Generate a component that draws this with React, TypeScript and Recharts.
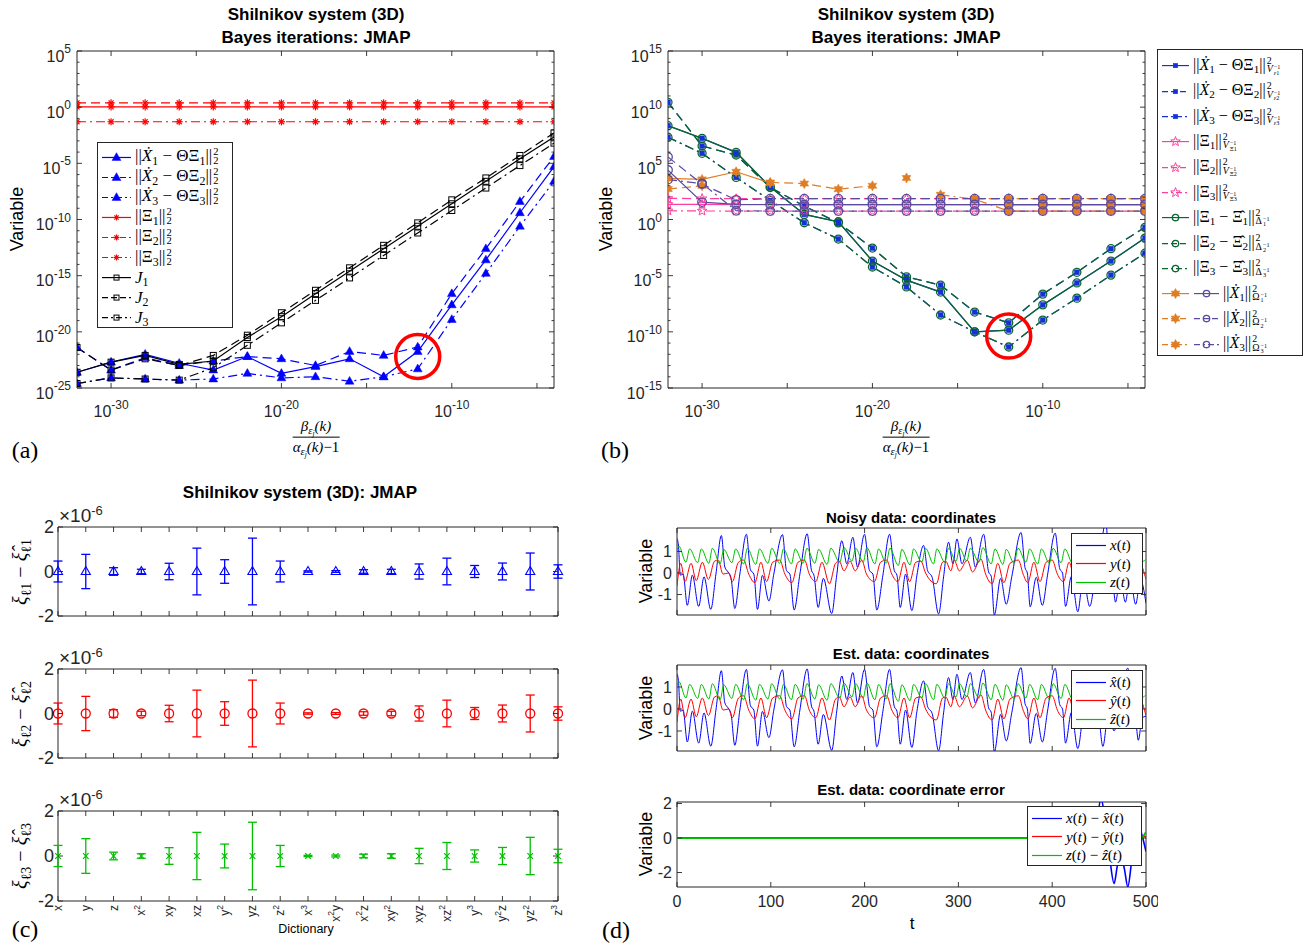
import React from 'react';
import {
  LineChart, Line, XAxis, YAxis, ReferenceArea, ReferenceDot,
  ScatterChart, Scatter, ErrorBar,
} from 'recharts';

const AX = '#262626';
const SANS = '"Liberation Sans", Arial, Helvetica, sans-serif';
const MATH = '"Liberation Serif", "DejaVu Serif", "Times New Roman", serif';
const DASH = '9 5';
const DASHDOT = '9 4 2 4';

const BLUE = '#0000ff';
const RED = '#ff0000';
const BLACK = '#000000';
const B_BLUE = '#1630d8';
const PINK = '#ff3fa0';
const DGREEN = '#0a6630';
const ORANGE = '#e07d22';
const PURPLE = '#5b4a9e';
const LGREEN = '#00c000';

// ---------------- β/(α−1) grid (log10 exponents) shared by (a) and (b)
const BETA_EXP = [-32, -30, -28, -26, -24, -22, -20, -18, -16, -14, -12, -10, -8, -6, -4];

// (a) log10 of the plotted quantities at each grid point
const RES1_A = [-23.6, -22.7, -22.0, -22.8, -23.4, -22.2, -23.7, -23.1, -22.4, -24.0, -21.75, -17.6, -13.6, -9.4, -5.3];
const RES2_A = [-21.4, -23.4, -22.3, -23.0, -22.6, -22.2, -22.4, -23.0, -21.75, -22.1, -21.35, -16.6, -12.6, -8.4, -4.4];
const RES3_A = [-24.6, -24.1, -24.2, -24.3, -24.2, -23.7, -24.1, -24.0, -24.4, -24.0, -23.3, -18.9, -14.8, -10.6, -6.6];
const NRM1_A = [0.03, 0.03, 0.03, 0.03, 0.03, 0.03, 0.03, 0.03, 0.03, 0.03, 0.03, 0.03, 0.03, 0.03, 0.03];
const NRM2_A = [0.38, 0.38, 0.38, 0.38, 0.38, 0.38, 0.38, 0.38, 0.38, 0.38, 0.38, 0.38, 0.38, 0.38, 0.38];
const NRM3_A = [-1.3, -1.3, -1.3, -1.3, -1.3, -1.3, -1.3, -1.3, -1.3, -1.3, -1.3, -1.3, -1.3, -1.3, -1.3];
const J1_A = [-23.6, -22.7, -22.1, -22.9, -22.6, -20.5, -18.65, -16.6, -14.6, -12.6, -10.6, -8.6, -6.6, -4.6, -2.65];
const J2_A = [-21.4, -23.4, -22.4, -23.0, -22.1, -20.3, -18.3, -16.3, -14.3, -12.3, -10.3, -8.25, -6.3, -4.3, -2.3];
const J3_A = [-24.6, -24.1, -24.2, -24.3, -23.2, -21.2, -19.2, -17.2, -15.2, -13.2, -11.2, -9.2, -7.2, -5.2, -3.2];
const MARK_A = { exp: -12, val: -22.2 };

// (b) log10 of the weighted quantities
const DIF1_B = [8.35, 7.23, 5.98, 2.9, 0.45, -0.2, -3.7, -5.4, -6.46, -10.0, -9.85, -7.6, -5.65, -3.7, -1.65];
const DIF2_B = [10.43, 6.54, 5.74, 2.85, 1.2, -0.3, -2.54, -5.1, -5.84, -8.24, -9.2, -6.64, -4.7, -2.6, -0.7];
const DIF3_B = [7.32, 5.89, 3.75, 1.7, -0.29, -1.74, -4.23, -6.0, -8.5, -10.0, -11.35, -8.95, -7.0, -4.95, -3.0];
const RESV1_B = [8.35, 7.23, 5.98, 2.9, 0.45, -0.2, -3.7, -5.4, -6.46, -10.0, -9.85, -7.6, -5.65, -3.7, -1.65];
const RESV2_B = [10.43, 6.54, 5.74, 2.85, 1.2, -0.3, -2.54, -5.1, -5.84, -8.24, -9.2, -6.64, -4.7, -2.6, -0.7];
const RESV3_B = [7.32, 5.89, 3.75, 1.7, -0.29, -1.74, -4.23, -6.0, -8.5, -10.0, -11.35, -8.95, -7.0, -4.95, -3.0];
const PN1_B = [1.35, 1.35, 1.33, 1.33, 1.33, 1.33, 1.33, 1.33, 1.33, 1.33, 1.33, 1.33, 1.33, 1.33, 1.33];
const PN2_B = [1.88, 1.86, 1.85, 1.85, 1.85, 1.85, 1.85, 1.85, 1.85, 1.85, 1.85, 1.85, 1.85, 1.85, 1.85];
const PN3_B = [0.78, 0.76, 0.75, 0.75, 0.75, 0.75, 0.75, 0.75, 0.75, 0.75, 0.75, 0.75, 0.75, 0.75, 0.75];
const XN1_B = [4.4, 1.55, 1.35, 1.33, 1.33, 1.33, 1.33, 1.33, 1.33, 1.33, 1.33, 1.33, 1.33, 1.33, 1.33];
const XN2_B = [5.56, 3.15, 1.75, 1.85, 1.85, 1.85, 1.85, 1.85, 1.85, 1.85, 1.85, 1.85, 1.85, 1.85, 1.85];
const XN3_B = [3.55, 3.2, 0.78, 0.75, 0.75, 0.75, 0.75, 0.75, 0.75, 0.75, 0.75, 0.75, 0.75, 0.75, 0.75];
const OR1_B = [3.66, 3.57, 4.25, 3.25, null, null, null, 3.7, null, null, 1.33, 1.33, 1.33, 1.33, 1.33];
const OR2_B = [2.71, 3.0, null, 3.3, 3.2, 2.7, 3.0, null, null, 1.85, 1.85, 1.85, 1.85, 1.85, 1.85];
const OR3_B = [null, null, null, null, null, null, null, null, 2.2, 1.8, 0.75, 0.75, 0.75, 0.75, 0.75];
const MARK_B = { exp: -12, val: -10.38 };

// (c) dictionary terms and coefficient error bars (units of 1e-6)
const DICT = ['x', 'y', 'z', 'x^2', 'xy', 'xz', 'y^2', 'yz', 'z^2', 'x^3', 'x^2y', 'x^2z', 'xy^2', 'xyz', 'xz^2', 'y^3', 'y^2z', 'yz^2', 'z^3'];
const ERR_C = [0.47, 0.77, 0.17, 0.1, 0.37, 1.05, 0.53, 1.5, 0.47, 0.03, 0.04, 0.08, 0.1, 0.34, 0.6, 0.27, 0.38, 0.83, 0.3];
const DEV1_C = [0, 0, 0, 0, 0, 0, 0, 0, 0, 0, 0, 0, 0, 0, 0, 0, 0, 0, 0];
const DEV2_C = [0, 0, 0, 0, 0, 0, 0, 0, 0, 0, 0, 0, 0, 0, 0, 0, 0, 0, 0];
const DEV3_C = [0, 0, 0, 0, 0, 0, 0, 0, 0, 0, 0, 0, 0, 0, 0, 0, 0, 0, 0];

// (d) trajectories as [t, value] turning points
const X_BODY = [
  [0, 1.6], [1.5, 1.3], [3.5, -0.1], [6.5, -0.05], [11, -1.5], [16.4, -0.1], [23.1, -1.55], [28.8, -0.18],
  [36, -1.69], [41.5, -0.05], [47.3, 1.74], [51, 0.28], [54.4, 0.05], [57.5, -0.2], [61.6, -1.65], [67, -0.05],
  [74, 1.8], [78.3, 0.15], [81.9, -0.05], [85.8, -1.69], [91.1, -0.11], [98, -1.3], [103.2, -0.05], [112.5, 1.78],
  [116.7, 0.12], [120.3, -0.05], [124.9, -1.72], [131, -0.05], [138.8, 1.82], [143.4, 0.12], [146, -0.1], [150.5, -1.6],
  [156, -0.25], [165, -1.88], [170, -0.2], [175.7, 1.5], [181, 0.43], [187.5, 1.66], [192.4, 0.28], [199.9, 1.8],
  [205.2, 0.12], [208.8, -0.05], [213, -1.72], [219.5, -0.1], [226.6, 1.8], [231.6, 0.12], [234.5, -0.1], [238, -1.6],
  [243.7, -0.05], [250.4, -1.75], [255.8, -0.1], [262.9, 1.28], [267.1, 0.12], [272, -0.2], [278.9, -1.9], [284.2, -0.18],
  [289.5, 1.43], [294.2, 0.43], [298.4, 1.58], [303.8, 0.43], [312.7, 1.66], [318, 0.28], [326.9, 1.8], [332.2, 0.05],
  [335, -0.15], [338.3, -1.95], [345, -0.25], [351, -1.45], [357, -0.15], [366.8, 1.88], [371, 0.25], [373.5, 0.0],
  [376.5, -1.57], [383, -0.2], [389.5, -1.5], [395, -0.1], [403.2, 1.85], [408, 0.2], [411, 0.0], [414.2, -1.55],
  [420.5, -0.15], [427.3, -1.8], [433, -0.2],
];
const X_NOISY_TAIL = [
  [440, -1.55], [446, -0.15], [452, 1.2], [457, 2.4], [461, 0.3], [464, -0.1], [467.5, -1.35], [472.5, -0.2],
  [478, -1.35], [483, -0.2], [489, -1.45], [494, -0.3], [500, -1.4],
];
const X_EST_TAIL = [
  [440, 0.9], [445, 0.2], [449, -0.1], [454, -1.7], [460, -0.15], [466, -1.0], [471, -0.1], [480.6, 1.86],
  [485, 0.25], [488, 0.0], [491.8, -1.42], [496, -0.4], [500, -0.33],
];
const Y_SERIES = [
  [0, -0.6], [4, 0.45], [8.5, -0.4], [15, 0.45], [20.5, -0.35], [27, 0.5], [33.5, -0.3], [40, 0.55], [44, 0.6],
  [49, -0.05], [55, 0.0], [59, -0.4], [65.5, 0.5], [71, 0.6], [76.5, -0.05], [83, -0.45], [89.5, 0.5], [95.5, -0.4],
  [102, 0.5], [109.5, 0.6], [115, -0.05], [122.5, -0.45], [129, 0.5], [136, 0.6], [141, -0.05], [148, -0.4],
  [154.5, 0.5], [162.5, -0.5], [169, 0.45], [173, 0.55], [178, 0.1], [184.5, 0.55], [190, 0.1], [197, 0.6],
  [202, -0.05], [210.5, -0.4], [217, 0.5], [223.5, 0.6], [229, -0.05], [235.5, -0.4], [242, 0.5], [248, -0.4],
  [254.5, 0.5], [260, 0.55], [265, 0.0], [276.5, -0.5], [283, 0.5], [286.5, 0.55], [292, 0.1], [295.5, 0.6],
  [301, 0.1], [309.5, 0.6], [315, 0.05], [324, 0.65], [329, -0.05], [336, -0.5], [342, 0.45], [348.5, -0.45],
  [355, 0.45], [364, 0.6], [369, -0.05], [374, -0.45], [380.5, 0.5], [387, -0.4], [393.5, 0.5], [400, 0.6],
  [405.5, -0.05], [412, -0.4], [418, 0.5], [425, -0.45], [431.5, 0.5], [438.5, -0.4], [445, 0.45], [454, 0.6],
  [459, -0.1], [465, -0.45], [471.5, 0.45], [475.5, -0.45], [482, 0.45], [486.5, -0.5], [493, 0.45], [500, -0.3],
];
const Z_SERIES = [
  [0, 1.05], [2, 1.25], [9.5, 0.5], [13.5, 1.12], [22, 0.48], [26, 1.12], [34, 0.45], [37.7, 1.15], [46, 0.42],
  [49.8, 1.1], [58.5, 0.48], [62.6, 1.12], [71, 0.42], [75, 1.15], [84, 0.4], [88, 1.12], [97, 0.45], [101, 1.15],
  [109.5, 0.45], [113.5, 1.12], [122, 0.42], [126, 1.12], [134.5, 0.45], [138.5, 1.15], [147, 0.45], [151, 1.1],
  [160, 0.4], [164, 1.15], [173.5, 0.5], [178, 1.18], [186.5, 0.55], [190.5, 1.15], [198.5, 0.5], [202.4, 1.18],
  [211, 0.42], [214.9, 1.12], [223, 0.45], [227, 1.15], [236, 0.35], [239.7, 1.1], [248.5, 0.38], [252.2, 1.12],
  [261, 0.5], [265, 1.15], [273.5, 0.42], [277, 1.12], [285.5, 0.5], [289.5, 1.15], [297.5, 0.55], [301.3, 1.15],
  [309, 0.55], [312.7, 1.15], [322, 0.5], [326, 1.18], [335, 0.42], [339, 1.12], [347.5, 0.4], [351, 1.1],
  [359.5, 0.45], [363.5, 1.15], [372, 0.5], [376, 1.12], [384.5, 0.42], [388.5, 1.12], [397, 0.45], [401, 1.15],
  [409.5, 0.48], [413.5, 1.12], [422, 0.42], [426, 1.12], [434.5, 0.42], [438.5, 1.1], [447, 0.5], [451, 1.15],
  [459.5, 0.5], [463.5, 1.1], [472, 0.45], [476, 1.12], [484.5, 0.5], [488.5, 1.1], [497, 0.55], [500, 0.65],
];
const ERRX_D = [
  [0, 0], [442, 0], [447, 0.6], [452, 2.3], [456, 1.2], [461, -1.0], [466, -2.63], [469.5, -1.6], [473.4, -1.07],
  [477, -1.8], [480.6, -2.83], [485, -1.2], [489, 0.2], [492.7, 0.68], [496, 0.1], [500, -0.78],
];
const ERRY_D = [[0, 0], [470, 0], [478, 0.1], [486, -0.15], [490, -0.45], [494, -0.2], [497, 0.1], [500, 0.05]];
const ERRZ_D = [[0, 0], [480, 0], [486, -0.1], [491, -0.25], [495, -0.05], [500, 0.35]];

// ---------------- helpers
const p10 = (v: number | null) => (v == null ? null : Math.pow(10, v));
const decades = (lo: number, hi: number) => {
  const out: number[] = [];
  for (let e = lo; e <= hi; e++) out.push(Math.pow(10, e));
  return out;
};
const expOf = (v: number) => Math.round(Math.log10(v));
const toPts = (a: number[][]) => a.map(([t, v]) => ({ t, v }));

type Box = { left: number; top: number; width: number; height: number };
const YW = 60;
const XH = 30;
function frame(b: Box, padL = 72, padT = 12, padR = 12, padB = 44) {
  return {
    style: { position: 'absolute', left: b.left - padL, top: b.top - padT } as React.CSSProperties,
    width: b.width + padL + padR,
    height: b.height + padT + padB,
    margin: { left: padL - YW, top: padT, right: padR, bottom: padB - XH },
  };
}

type TickCfg = {
  side: 'left' | 'bottom';
  gap: number;
  span: number;
  len?: number;
  minorLen?: number;
  isMajor?: (v: number) => boolean;
  label?: (v: number, x: number, y: number) => React.ReactNode;
};
function tickRenderer(c: TickCfg) {
  return (p: any) => {
    const v = Number(p.payload && p.payload.value);
    const major = c.isMajor ? c.isMajor(v) : true;
    const L = major ? (c.len ?? 5) : (c.minorLen ?? 3);
    if (c.side === 'left') {
      const ax = p.x + c.gap;
      return (
        <g>
          <line x1={ax} x2={ax + L} y1={p.y} y2={p.y} stroke={AX} strokeWidth={0.9} />
          <line x1={ax + c.span - L} x2={ax + c.span} y1={p.y} y2={p.y} stroke={AX} strokeWidth={0.9} />
          {major && c.label ? c.label(v, p.x, p.y) : null}
        </g>
      );
    }
    const ay = p.y - c.gap;
    return (
      <g>
        <line x1={p.x} x2={p.x} y1={ay} y2={ay - L} stroke={AX} strokeWidth={0.9} />
        <line x1={p.x} x2={p.x} y1={ay - c.span} y2={ay - c.span + L} stroke={AX} strokeWidth={0.9} />
        {major && c.label ? c.label(v, p.x, p.y) : null}
      </g>
    );
  };
}

const powLeft = (v: number, x: number, y: number) => (
  <text x={x} y={y + 10.5} textAnchor="end" fontFamily={SANS} fontSize={16} fill={AX}>
    10<tspan dy={-8.5} fontSize={12}>{expOf(v)}</tspan>
  </text>
);
const powBottom = (v: number, x: number, y: number) =>
  expOf(v) % 10 === 0 ? (
    <text x={x} y={y + 23} textAnchor="middle" fontFamily={SANS} fontSize={16} fill={AX}>
      10<tspan dy={-8.5} fontSize={12}>{expOf(v)}</tspan>
    </text>
  ) : null;
const numLeft = (size: number) => (v: number, x: number, y: number) => (
  <text x={x} y={y} dy="0.36em" textAnchor="end" fontFamily={SANS} fontSize={size} fill={AX}>{String(v)}</text>
);
const numBottom = (size: number) => (v: number, x: number, y: number) => (
  <text x={x} y={y + 16} textAnchor="middle" fontFamily={SANS} fontSize={size} fill={AX}>{String(v)}</text>
);
const dictLabel = (v: number, x: number, y: number) => {
  const s = DICT[Math.round(v)] || '';
  const parts: React.ReactNode[] = [];
  let raised = false;
  for (let i = 0; i < s.length; i++) {
    if (s[i] === '^') {
      parts.push(<tspan key={i} dy={-4.5} fontSize={8.5}>{s[i + 1]}</tspan>);
      raised = true;
      i++;
    } else {
      parts.push(<tspan key={i} dy={raised ? 4.5 : 0} fontSize={12}>{s[i]}</tspan>);
      raised = false;
    }
  }
  return (
    <text transform={`rotate(-90 ${x} ${y})`} x={x} y={y} textAnchor="end" dominantBaseline="central" fontFamily={SANS} fill={AX}>
      {parts}
    </text>
  );
};

// ---------------- marker shapes
type Draw = (x: number, y: number) => React.ReactNode;
const starPath = (cx: number, cy: number, n: number, ro: number, ri: number) => {
  let d = '';
  for (let k = 0; k < 2 * n; k++) {
    const r = k % 2 ? ri : ro;
    const a = -Math.PI / 2 + (k * Math.PI) / n;
    d += (k ? 'L' : 'M') + (cx + r * Math.cos(a)).toFixed(2) + ',' + (cy + r * Math.sin(a)).toFixed(2);
  }
  return d + 'Z';
};
const triFilled = (c: string): Draw => (x, y) => (
  <path d={`M${x},${y - 4.8}L${x + 4.4},${y + 2.9}L${x - 4.4},${y + 2.9}Z`} fill={c} stroke={c} strokeWidth={0.5} />
);
const triOpen = (c: string): Draw => (x, y) => (
  <path d={`M${x},${y - 5}L${x + 4.6},${y + 3}L${x - 4.6},${y + 3}Z`} fill="none" stroke={c} strokeWidth={1.1} />
);
const sqOpen = (c: string, s = 3): Draw => (x, y) => (
  <rect x={x - s} y={y - s} width={2 * s} height={2 * s} fill="none" stroke={c} strokeWidth={1} />
);
const sqFilled = (c: string, s = 2.4): Draw => (x, y) => (
  <rect x={x - s} y={y - s} width={2 * s} height={2 * s} fill={c} stroke={c} strokeWidth={0.5} />
);
const circOpen = (c: string, r = 4): Draw => (x, y) => (
  <circle cx={x} cy={y} r={r} fill="none" stroke={c} strokeWidth={1.3} />
);
const asterisk = (c: string, r = 3.6): Draw => (x, y) => (
  <g stroke={c} strokeWidth={1.2}>
    <line x1={x - r} y1={y} x2={x + r} y2={y} />
    <line x1={x} y1={y - r} x2={x} y2={y + r} />
    <line x1={x - r * 0.7} y1={y - r * 0.7} x2={x + r * 0.7} y2={y + r * 0.7} />
    <line x1={x - r * 0.7} y1={y + r * 0.7} x2={x + r * 0.7} y2={y - r * 0.7} />
  </g>
);
const starOpen = (c: string): Draw => (x, y) => (
  <path d={starPath(x, y, 5, 5, 2.1)} fill="none" stroke={c} strokeWidth={1} />
);
const hexFilled = (c: string): Draw => (x, y) => (
  <path d={starPath(x, y, 6, 5, 2.8)} fill={c} stroke={c} strokeWidth={0.6} />
);
const crossX = (c: string, r = 2.8): Draw => (x, y) => (
  <g stroke={c} strokeWidth={1.2}>
    <line x1={x - r} y1={y - r} x2={x + r} y2={y + r} />
    <line x1={x - r} y1={y + r} x2={x + r} y2={y - r} />
  </g>
);
const dotOf = (draw: Draw) => (p: any) => (
  <g key={`dot-${p.index}`}>
    {p.cx == null || p.cy == null || p.value == null || Number.isNaN(p.cy) ? null : draw(p.cx, p.cy)}
  </g>
);

// ---------------- text helpers
const Txt = ({ x, y, size, bold, family, rotate, italic, children }: any) => (
  <div
    style={{
      position: 'absolute', left: x, top: y,
      transform: `translate(-50%, -50%)${rotate ? ' rotate(-90deg)' : ''}`,
      fontSize: size, fontWeight: bold ? 700 : 400, fontFamily: family || SANS,
      fontStyle: italic ? 'italic' : 'normal', whiteSpace: 'nowrap', lineHeight: 1, color: '#000',
    }}
  >
    {children}
  </div>
);
const Scr = ({ sup, sub }: { sup: React.ReactNode; sub: React.ReactNode }) => (
  <span style={{ display: 'inline-flex', flexDirection: 'column', verticalAlign: 'middle', fontSize: '0.62em', lineHeight: 0.85, marginLeft: 1 }}>
    <span>{sup}</span>
    <span>{sub}</span>
  </span>
);
const Sb = ({ children }: any) => <span style={{ fontSize: '0.7em', verticalAlign: '-0.28em', lineHeight: 0.8 }}>{children}</span>;
const Frac = ({ size = 15 }: { size?: number }) => (
  <div style={{ display: 'inline-flex', flexDirection: 'column', alignItems: 'center', fontFamily: MATH, fontSize: size, fontStyle: 'italic', lineHeight: 1.15 }}>
    <span>β<Sb>ε<Sb>j</Sb></Sb>(k)</span>
    <span style={{ borderTop: '1px solid #000', paddingTop: 1 }}>α<Sb>ε<Sb>j</Sb></Sb>(k)<span style={{ fontStyle: 'normal' }}>−1</span></span>
  </div>
);

type Sample = { color: string; dash?: string; mark?: Draw; w: number };
type LegRow = { samples: Sample[]; text: React.ReactNode };
function LegendBox({ x, y, w, h, rows, first, step, font }: { x: number; y: number; w: number; h: number; rows: LegRow[]; first: number; step: number; font: number }) {
  return (
    <div style={{ position: 'absolute', left: x, top: y, width: w, height: h, border: `1px solid ${AX}`, background: '#fff', boxSizing: 'border-box' }}>
      {rows.map((r, i) => (
        <div
          key={i}
          style={{
            position: 'absolute', left: 3, top: first + i * step, transform: 'translateY(-50%)',
            display: 'flex', alignItems: 'center', whiteSpace: 'nowrap', fontFamily: MATH, fontSize: font,
            lineHeight: 1, color: '#000',
          }}
        >
          {r.samples.map((s, k) => (
            <svg key={k} width={s.w} height={14} style={{ marginRight: 3, flex: 'none', overflow: 'visible' }}>
              <line x1={1} x2={s.w - 1} y1={7} y2={7} stroke={s.color} strokeWidth={1.2} strokeDasharray={s.dash} />
              {s.mark ? s.mark(s.w / 2, 7) : null}
            </svg>
          ))}
          <span>{r.text}</span>
        </div>
      ))}
    </div>
  );
}

// ---------------- panels (a) and (b)
const rowsA = BETA_EXP.map((e, i) => ({
  b: p10(e),
  r1: p10(RES1_A[i]), r2: p10(RES2_A[i]), r3: p10(RES3_A[i]),
  n1: p10(NRM1_A[i]), n2: p10(NRM2_A[i]), n3: p10(NRM3_A[i]),
  j1: p10(J1_A[i]), j2: p10(J2_A[i]), j3: p10(J3_A[i]),
}));
const rowsB = BETA_EXP.map((e, i) => ({
  b: p10(e),
  e1: p10(RESV1_B[i]), e2: p10(RESV2_B[i]), e3: p10(RESV3_B[i]),
  d1: p10(DIF1_B[i]), d2: p10(DIF2_B[i]), d3: p10(DIF3_B[i]),
  s1: p10(PN1_B[i]), s2: p10(PN2_B[i]), s3: p10(PN3_B[i]),
  o1: p10(OR1_B[i]), o2: p10(OR2_B[i]), o3: p10(OR3_B[i]),
  u1: p10(XN1_B[i]), u2: p10(XN2_B[i]), u3: p10(XN3_B[i]),
}));

const X_TICKS_AB = decades(-30, -5).filter((v) => expOf(v) % 5 === 0);

function LogPanel({ box, rows, yLo, yHi, mark, children }: { box: Box; rows: any[]; yLo: number; yHi: number; mark: { exp: number; val: number }; children: React.ReactNode }) {
  const f = frame(box, 80, 12, 12, 44);
  return (
    <div style={f.style}>
      <LineChart width={f.width} height={f.height} data={rows} margin={f.margin}>
        <XAxis
          dataKey="b" type="number" scale="log" domain={[1e-32, 1e-4]} allowDataOverflow
          ticks={X_TICKS_AB} interval={0} height={XH} tickSize={0} tickMargin={6} axisLine={false} tickLine={false}
          tick={tickRenderer({ side: 'bottom', gap: 6, span: box.height, len: 5, label: powBottom })}
        />
        <YAxis
          type="number" scale="log" domain={[Math.pow(10, yLo), Math.pow(10, yHi)]} allowDataOverflow
          ticks={decades(yLo, yHi)} interval={0} width={YW} tickSize={0} tickMargin={6} axisLine={false} tickLine={false}
          tick={tickRenderer({ side: 'left', gap: 6, span: box.width, len: 5, minorLen: 2.5, isMajor: (v) => expOf(v) % 5 === 0, label: powLeft })}
        />
        <ReferenceArea x1={1e-32} x2={1e-4} y1={Math.pow(10, yLo)} y2={Math.pow(10, yHi)} fill="none" fillOpacity={0} stroke={AX} strokeWidth={1} ifOverflow="visible" />
        {children}
        <ReferenceDot x={Math.pow(10, mark.exp)} y={Math.pow(10, mark.val)} r={22} fill="none" stroke={RED} strokeWidth={3.5} ifOverflow="visible" />
      </LineChart>
    </div>
  );
}

function PanelA() {
  const box = { left: 77, top: 51, width: 477, height: 337 };
  const L = (key: string, color: string, dash: string | undefined, mk: Draw) => (
    <Line key={key} dataKey={key} stroke={color} strokeWidth={1.2} strokeDasharray={dash} dot={dotOf(mk)} isAnimationActive={false} />
  );
  const resT = (k: string) => <>||<i>Ẋ</i><Sb>{k}</Sb> − ΘΞ<Sb>{k}</Sb>||<Scr sup="2" sub="2" /></>;
  const nrmT = (k: string) => <>||Ξ<Sb>{k}</Sb>||<Scr sup="2" sub="2" /></>;
  const jT = (k: string) => <><i>J</i><Sb>{k}</Sb></>;
  const legendRows: LegRow[] = [
    { samples: [{ color: BLUE, mark: triFilled(BLUE), w: 31 }], text: resT('1') },
    { samples: [{ color: BLUE, dash: '6 3', mark: triFilled(BLUE), w: 31 }], text: resT('2') },
    { samples: [{ color: BLUE, dash: '6 3 2 3', mark: triFilled(BLUE), w: 31 }], text: resT('3') },
    { samples: [{ color: RED, mark: asterisk(RED, 3), w: 31 }], text: nrmT('1') },
    { samples: [{ color: RED, dash: '6 3', mark: asterisk(RED, 3), w: 31 }], text: nrmT('2') },
    { samples: [{ color: RED, dash: '6 3 2 3', mark: asterisk(RED, 3), w: 31 }], text: nrmT('3') },
    { samples: [{ color: BLACK, mark: sqOpen(BLACK, 2.5), w: 31 }], text: jT('1') },
    { samples: [{ color: BLACK, dash: '6 3', mark: sqOpen(BLACK, 2.5), w: 31 }], text: jT('2') },
    { samples: [{ color: BLACK, dash: '6 3 2 3', mark: sqOpen(BLACK, 2.5), w: 31 }], text: jT('3') },
  ];
  return (
    <>
      <LogPanel box={box} rows={rowsA} yLo={-25} yHi={5} mark={MARK_A}>
        {[
          L('r1', BLUE, undefined, triFilled(BLUE)),
          L('r2', BLUE, DASH, triFilled(BLUE)),
          L('r3', BLUE, DASHDOT, triFilled(BLUE)),
          L('n1', RED, undefined, asterisk(RED)),
          L('n2', RED, DASH, asterisk(RED)),
          L('n3', RED, DASHDOT, asterisk(RED)),
          L('j1', BLACK, undefined, sqOpen(BLACK)),
          L('j2', BLACK, DASH, sqOpen(BLACK)),
          L('j3', BLACK, DASHDOT, sqOpen(BLACK)),
        ]}
      </LogPanel>
      <LegendBox x={97} y={142} w={136} h={186} rows={legendRows} first={14} step={20.1} font={17} />
      <Txt x={316} y={14} size={17} bold>Shilnikov system (3D)</Txt>
      <Txt x={316} y={37} size={17} bold>Bayes iterations: JMAP</Txt>
      <Txt x={17} y={219} size={18} rotate>Variable</Txt>
      <div style={{ position: 'absolute', left: 316, top: 437, transform: 'translate(-50%, -50%)' }}><Frac /></div>
      <Txt x={25} y={450} size={24} family={MATH}>(a)</Txt>
    </>
  );
}

function PanelB() {
  const box = { left: 668, top: 51, width: 477, height: 337 };
  const L = (key: string, color: string, dash: string | undefined, mk: Draw, w = 1.2) => (
    <Line key={key} dataKey={key} stroke={color} strokeWidth={w} strokeDasharray={dash} dot={dotOf(mk)} isAnimationActive={false} />
  );
  const Vsub = (sym: React.ReactNode) => <><i>V</i><Scr sup="−1" sub={sym} /></>;
  const resT = (k: string) => (
    <>||<i>Ẋ</i><Sb>{k}</Sb> − ΘΞ<Sb>{k}</Sb>||<Scr sup="2" sub={Vsub(<><i>ε</i>{k}</>)} /></>
  );
  const nrmT = (k: string) => <>||Ξ<Sb>{k}</Sb>||<Scr sup="2" sub={Vsub(<>Ξ{k}</>)} /></>;
  const difT = (k: string) => <>||Ξ<Sb>{k}</Sb> − Ξ̂<Sb>{k}</Sb>||<Scr sup="2" sub={<>Δ<Scr sup="−1" sub={k} /></>} /></>;
  const xnT = (k: string) => <>||<i>Ẋ</i><Sb>{k}</Sb>||<Scr sup="2" sub={<>Ω<Scr sup="−1" sub={k} /></>} /></>;
  const dashes = [undefined, '6 3', '6 3 2 3'];
  const legendRows: LegRow[] = [
    ...['1', '2', '3'].map((k, i) => ({ samples: [{ color: B_BLUE, dash: dashes[i], mark: sqFilled(B_BLUE, 2.2), w: 29 }], text: resT(k) })),
    ...['1', '2', '3'].map((k, i) => ({ samples: [{ color: PINK, dash: dashes[i], mark: starOpen(PINK), w: 29 }], text: nrmT(k) })),
    ...['1', '2', '3'].map((k, i) => ({ samples: [{ color: DGREEN, dash: dashes[i], mark: circOpen(DGREEN, 3.2), w: 29 }], text: difT(k) })),
    ...['1', '2', '3'].map((k, i) => ({
      samples: [
        { color: ORANGE, dash: dashes[i], mark: hexFilled(ORANGE), w: 29 },
        { color: PURPLE, dash: dashes[i], mark: circOpen(PURPLE, 3.2), w: 27 },
      ],
      text: xnT(k),
    })),
  ];
  return (
    <>
      <LogPanel box={box} rows={rowsB} yLo={-15} yHi={15} mark={MARK_B}>
        {[
          L('e1', B_BLUE, undefined, sqFilled(B_BLUE)),
          L('e2', B_BLUE, DASH, sqFilled(B_BLUE)),
          L('e3', B_BLUE, DASHDOT, sqFilled(B_BLUE)),
          L('d1', DGREEN, undefined, circOpen(DGREEN), 1.3),
          L('d2', DGREEN, DASH, circOpen(DGREEN), 1.3),
          L('d3', DGREEN, DASHDOT, circOpen(DGREEN), 1.3),
          L('s1', PINK, undefined, starOpen(PINK)),
          L('s2', PINK, DASH, starOpen(PINK)),
          L('s3', PINK, DASHDOT, starOpen(PINK)),
          L('o1', ORANGE, undefined, hexFilled(ORANGE)),
          L('o2', ORANGE, DASH, hexFilled(ORANGE)),
          L('o3', ORANGE, DASHDOT, hexFilled(ORANGE)),
          L('u1', PURPLE, undefined, circOpen(PURPLE, 4.3)),
          L('u2', PURPLE, DASH, circOpen(PURPLE, 4.3)),
          L('u3', PURPLE, DASHDOT, circOpen(PURPLE, 4.3)),
        ]}
      </LogPanel>
      <LegendBox x={1157} y={49} w={146} h={307} rows={legendRows} first={16} step={25.3} font={16} />
      <Txt x={906} y={14} size={17} bold>Shilnikov system (3D)</Txt>
      <Txt x={906} y={37} size={17} bold>Bayes iterations: JMAP</Txt>
      <Txt x={606} y={219} size={18} rotate>Variable</Txt>
      <div style={{ position: 'absolute', left: 906, top: 437, transform: 'translate(-50%, -50%)' }}><Frac /></div>
      <Txt x={615} y={450} size={24} family={MATH}>(b)</Txt>
    </>
  );
}

// ---------------- panel (c)
function ErrPanel({ box, dev, color, mark, showLabels }: { box: Box; dev: number[]; color: string; mark: Draw; showLabels: boolean }) {
  const f = frame(box, 72, 12, 12, 44);
  const rows = DICT.map((_, i) => ({ i, v: dev[i], e: ERR_C[i] }));
  return (
    <div style={f.style}>
      <ScatterChart width={f.width} height={f.height} margin={f.margin}>
        <XAxis
          dataKey="i" type="number" domain={[0, 18]} ticks={DICT.map((_, i) => i)} interval={0} height={XH}
          tickSize={0} tickMargin={4} axisLine={false} tickLine={false}
          tick={tickRenderer({ side: 'bottom', gap: 4, span: box.height, len: 5, label: showLabels ? dictLabel : undefined })}
        />
        <YAxis
          dataKey="v" type="number" domain={[-2, 2]} ticks={[-2, 0, 2]} interval={0} width={YW}
          tickSize={0} tickMargin={4} axisLine={false} tickLine={false}
          tick={tickRenderer({ side: 'left', gap: 4, span: box.width, len: 5, label: numLeft(18) })}
        />
        <ReferenceArea x1={0} x2={18} y1={-2} y2={2} fill="none" fillOpacity={0} stroke={AX} strokeWidth={1} ifOverflow="visible" />
        <Scatter data={rows} dataKey="v" isAnimationActive={false} shape={(p: any) => <g>{mark(p.cx, p.cy)}</g>}>
          <ErrorBar dataKey="e" direction="y" width={4.5} stroke={color} strokeWidth={1.3} isAnimationActive={false} />
        </Scatter>
      </ScatterChart>
    </div>
  );
}

function PanelC() {
  const subs = [
    { box: { left: 58, top: 527, width: 500, height: 89 }, dev: DEV1_C, color: BLUE, mark: triOpen(BLUE), k: '1' },
    { box: { left: 58, top: 669, width: 500, height: 89 }, dev: DEV2_C, color: RED, mark: circOpen(RED, 4.5), k: '2' },
    { box: { left: 58, top: 811, width: 500, height: 90 }, dev: DEV3_C, color: LGREEN, mark: crossX(LGREEN), k: '3' },
  ];
  return (
    <>
      {subs.map((s, i) => (
        <React.Fragment key={i}>
          <ErrPanel box={s.box} dev={s.dev} color={s.color} mark={s.mark} showLabels={i === 2} />
          <div style={{ position: 'absolute', left: 59, top: s.box.top - 23, fontFamily: SANS, fontSize: 19, color: AX, whiteSpace: 'nowrap', lineHeight: 1 }}>
            ×10<span style={{ fontSize: 13, verticalAlign: '0.55em' }}>-6</span>
          </div>
          <Txt x={21} y={s.box.top + s.box.height / 2} size={20} family={MATH} rotate>
            <i>ξ</i><Sb>ℓ{s.k}</Sb> − <i>ξ̂</i><Sb>ℓ{s.k}</Sb>
          </Txt>
        </React.Fragment>
      ))}
      <Txt x={300} y={492} size={17} bold>Shilnikov system (3D): JMAP</Txt>
      <Txt x={306} y={929} size={12.5}>Dictionary</Txt>
      <Txt x={25} y={929} size={24} family={MATH}>(c)</Txt>
    </>
  );
}

// ---------------- panel (d)
function SeriesPanel({ box, domain, yTicks, series, showX }: { box: Box; domain: number[]; yTicks: number[]; series: { data: number[][]; color: string; w?: number }[]; showX: boolean }) {
  const f = frame(box, 72, 12, 12, 44);
  return (
    <div style={f.style}>
      <LineChart width={f.width} height={f.height} margin={f.margin}>
        <XAxis
          dataKey="t" type="number" domain={[0, 500]} allowDataOverflow ticks={[0, 100, 200, 300, 400, 500]} interval={0}
          height={XH} tickSize={0} tickMargin={4} axisLine={false} tickLine={false}
          tick={tickRenderer({ side: 'bottom', gap: 4, span: box.height, len: 5, label: showX ? numBottom(16) : undefined })}
        />
        <YAxis
          type="number" domain={domain} allowDataOverflow ticks={yTicks} interval={0} width={YW}
          tickSize={0} tickMargin={5} axisLine={false} tickLine={false}
          tick={tickRenderer({ side: 'left', gap: 5, span: box.width, len: 5, label: numLeft(16) })}
        />
        <ReferenceArea x1={0} x2={500} y1={domain[0]} y2={domain[1]} fill="none" fillOpacity={0} stroke={AX} strokeWidth={1} ifOverflow="visible" />
        {series.map((s, k) => (
          <Line key={k} data={toPts(s.data)} dataKey="v" type="monotone" stroke={s.color} strokeWidth={s.w ?? 1} dot={false} isAnimationActive={false} />
        ))}
      </LineChart>
    </div>
  );
}

function PanelD() {
  const box1 = { left: 677, top: 528, width: 469, height: 87 };
  const box2 = { left: 677, top: 665, width: 469, height: 86 };
  const box3 = { left: 677, top: 802, width: 469, height: 85 };
  const row = (c: string, text: React.ReactNode): LegRow => ({ samples: [{ color: c, w: 32 }], text });
  const t = <>(<i>t</i>)</>;
  return (
    <>
      <SeriesPanel
        box={box1} domain={[-1.95, 2.09]} yTicks={[-1, 0, 1]} showX={false}
        series={[
          { data: X_BODY.concat(X_NOISY_TAIL), color: BLUE },
          { data: Y_SERIES, color: RED },
          { data: Z_SERIES, color: LGREEN },
        ]}
      />
      <SeriesPanel
        box={box2} domain={[-1.91, 2.0]} yTicks={[-1, 0, 1]} showX={false}
        series={[
          { data: X_BODY.concat(X_EST_TAIL), color: BLUE },
          { data: Y_SERIES, color: RED },
          { data: Z_SERIES, color: LGREEN },
        ]}
      />
      <SeriesPanel
        box={box3} domain={[-2.84, 2.09]} yTicks={[-2, 0, 2]} showX
        series={[
          { data: ERRX_D, color: BLUE, w: 1.6 },
          { data: ERRY_D, color: RED, w: 1.6 },
          { data: ERRZ_D, color: LGREEN, w: 1.8 },
        ]}
      />
      <LegendBox x={1071} y={533} w={72} h={61} first={11} step={18.5} font={15}
        rows={[row(BLUE, <><i>x</i>{t}</>), row(RED, <><i>y</i>{t}</>), row(LGREEN, <><i>z</i>{t}</>)]} />
      <LegendBox x={1071} y={670} w={72} h={59} first={11} step={18.5} font={15}
        rows={[row(BLUE, <><i>x̂</i>{t}</>), row(RED, <><i>ŷ</i>{t}</>), row(LGREEN, <><i>ẑ</i>{t}</>)]} />
      <LegendBox x={1027} y={806} w={115} h={60} first={11} step={18.5} font={15}
        rows={[
          row(BLUE, <><i>x</i>{t} − <i>x̂</i>{t}</>),
          row(RED, <><i>y</i>{t} − <i>ŷ</i>{t}</>),
          row(LGREEN, <><i>z</i>{t} − <i>ẑ</i>{t}</>),
        ]} />
      <Txt x={911} y={517} size={15} bold>Noisy data: coordinates</Txt>
      <Txt x={911} y={653} size={15} bold>Est. data: coordinates</Txt>
      <Txt x={911} y={789} size={15} bold>Est. data: coordinate error</Txt>
      <Txt x={646} y={571} size={18} rotate>Variable</Txt>
      <Txt x={646} y={708} size={18} rotate>Variable</Txt>
      <Txt x={646} y={844} size={18} rotate>Variable</Txt>
      <Txt x={912} y={923} size={17}>t</Txt>
      <Txt x={616} y={930} size={24} family={MATH}>(d)</Txt>
    </>
  );
}

export default function App() {
  return (
    <div style={{ position: 'absolute', left: 0, top: 0, width: 1312, height: 945, background: '#fff', overflow: 'hidden', fontFamily: SANS }}>
      <PanelA />
      <PanelB />
      <PanelC />
      <PanelD />
    </div>
  );
}
